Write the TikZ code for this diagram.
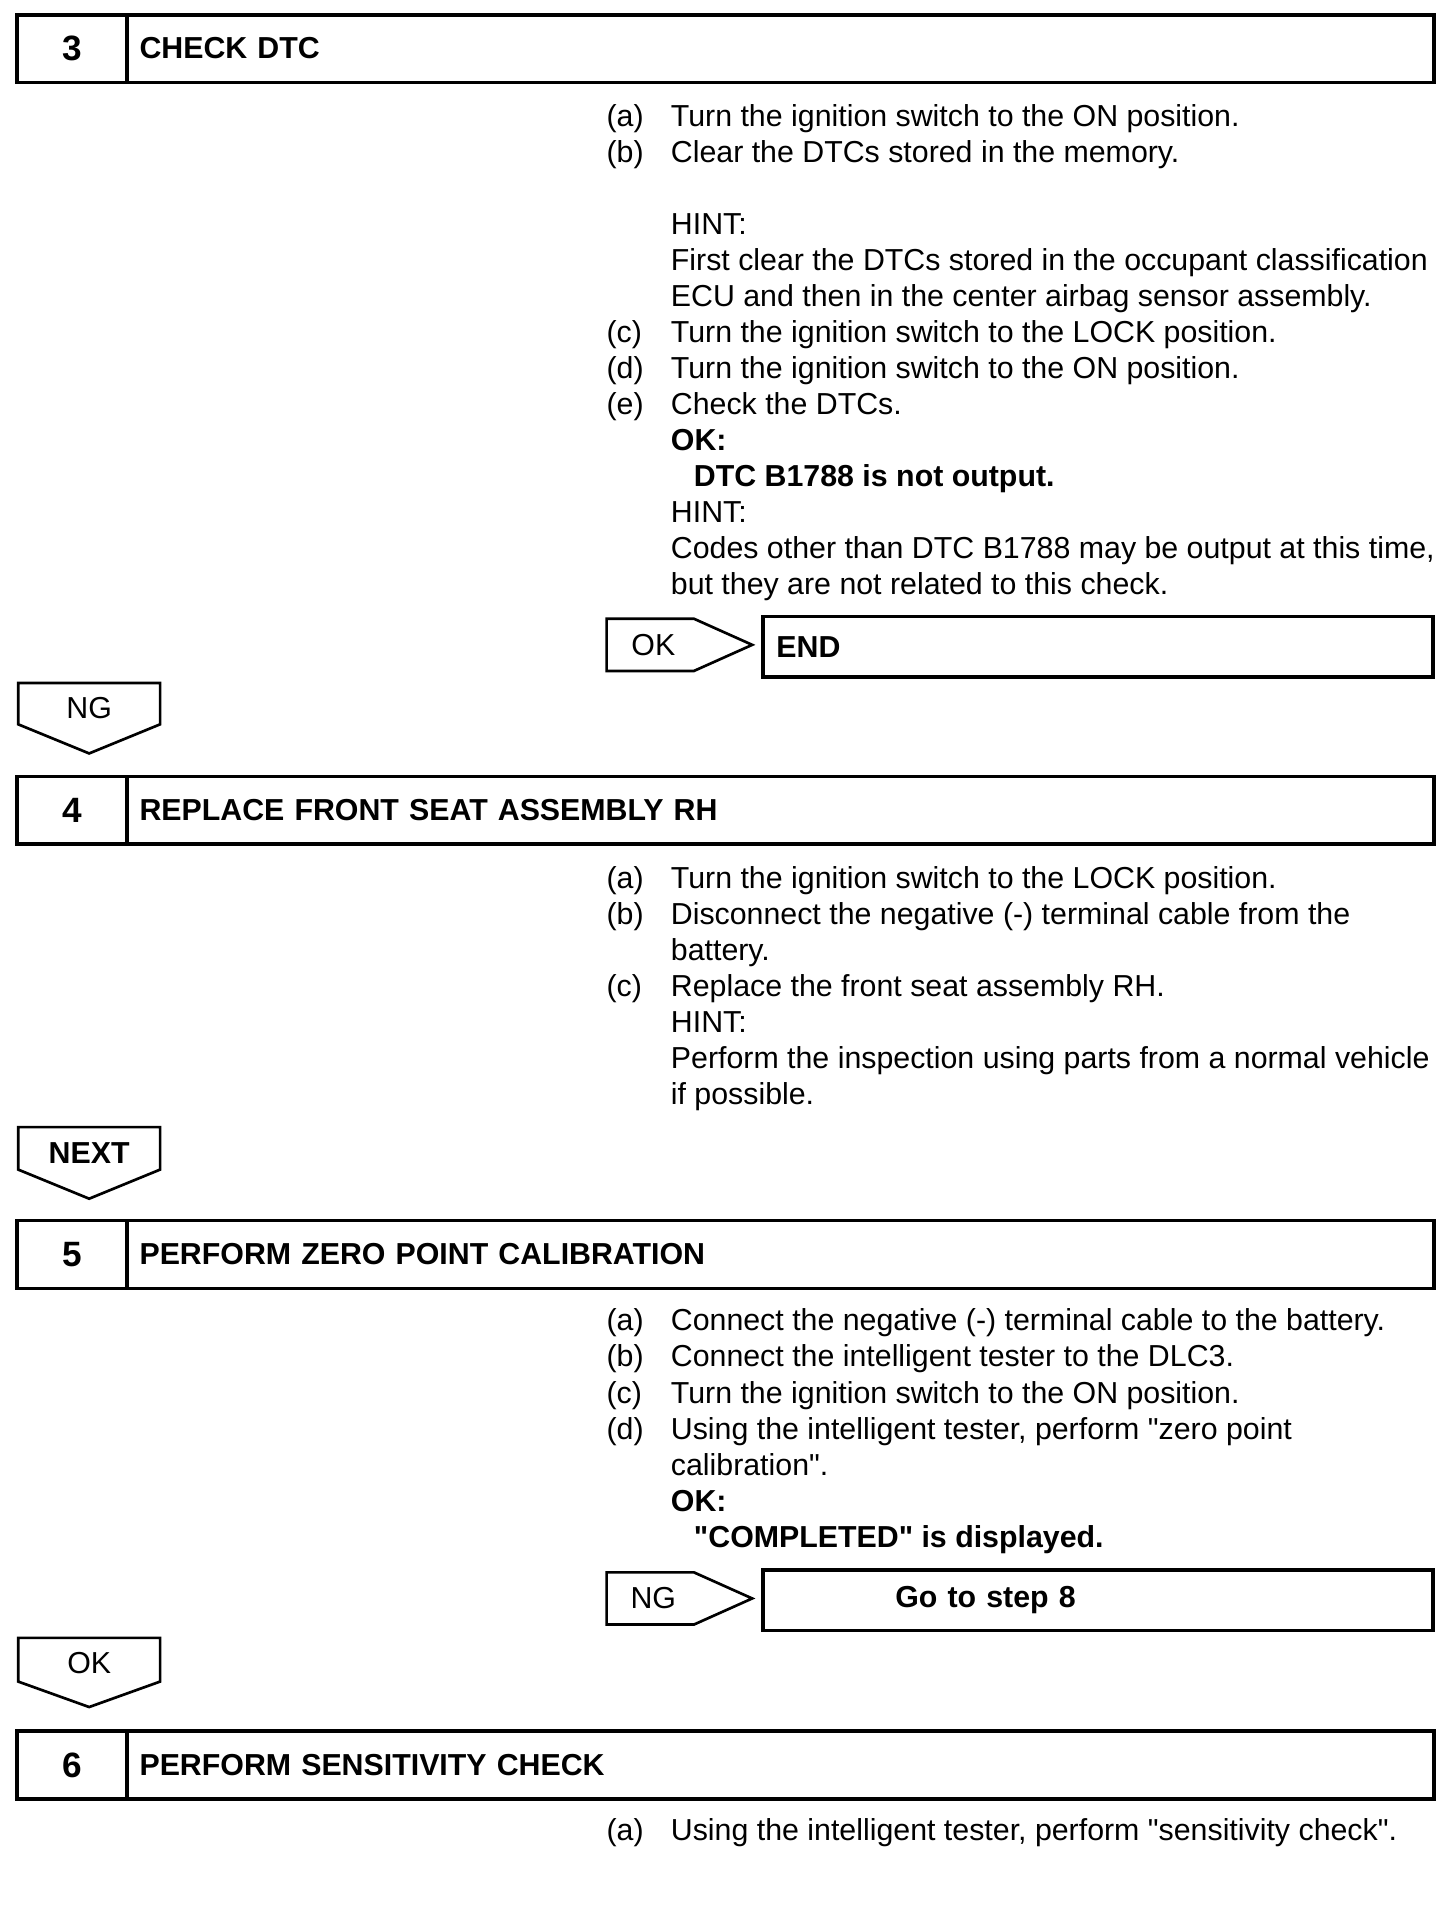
\documentclass[tikz,border=0pt]{standalone}
\usepackage{fontspec}
\setmainfont{Liberation Sans}
\usepackage{tikz}
\usetikzlibrary{positioning}
\newcommand{\txt}{\fontsize{12.5}{14.85}\selectfont}
\newcommand{\ind}{\hspace*{9.5pt}}
\newcommand{\q}{\textquotedbl}

\begin{document}
\begin{tikzpicture}[x=0.5pt, y=-0.5pt,
  every node/.style={font=\txt, inner sep=0pt, outer sep=0pt},
  numcell/.style={draw=black, line width=1.6pt, minimum width=45.5pt, minimum height=28pt, font=\fontsize{14.5}{16}\selectfont\bfseries},
  titlecell/.style={draw=black, line width=1.6pt, minimum width=538.5pt, minimum height=28pt, text width=528.5pt, inner xsep=5pt, align=left, font=\txt\bfseries},
  resultbox/.style={draw=black, line width=1.4pt, minimum width=276pt, minimum height=25pt, text width=265pt, inner xsep=5.5pt, align=left, font=\txt\bfseries},
  tagline/.style={draw=black, line width=1.1pt, line join=miter}]

\useasboundingbox (0,0) rectangle (1200,1571);

% step 3
\node [numcell] (num 3) at (59.5,40) {3};
\node [titlecell, right=0pt of num 3] (title 3) {CHECK DTC};
\node [anchor=base west] (text 3) at (500,104) {\begin{tabular}[t]{@{}p{26.5pt}@{}l@{}}
(a) & Turn the ignition switch to the ON position.\\
(b) & Clear the DTCs stored in the memory.\\
 & \\
 & HINT:\\
 & First clear the DTCs stored in the occupant classification\\
 & ECU and then in the center airbag sensor assembly.\\
(c) & Turn the ignition switch to the LOCK position.\\
(d) & Turn the ignition switch to the ON position.\\
(e) & Check the DTCs.\\
 & \textbf{OK:}\\
 & \ind\textbf{DTC B1788 is not output.}\\
 & HINT:\\
 & Codes other than DTC B1788 may be output at this time,\\
 & but they are not related to this check.
\end{tabular}};

\path [tagline] (500,510) -- (572,510) -- (620,531.5) -- (572,553) -- (500,553) -- cycle;
\node (ok 3) at (538.5,531.5) {OK};
\node [resultbox] (end) at (905,533) {END};

\path [tagline] (15,563) -- (132,563) -- (132,597) -- (73.5,621) -- (15,597) -- cycle;
\node (ng 3) at (73.5,584) {NG};

% step 4
\node [numcell] (num 4) at (59.5,668) {4};
\node [titlecell, right=0pt of num 4] (title 4) {REPLACE FRONT SEAT ASSEMBLY RH};
\node [anchor=base west] (text 4) at (500,732) {\begin{tabular}[t]{@{}p{26.5pt}@{}l@{}}
(a) & Turn the ignition switch to the LOCK position.\\
(b) & Disconnect the negative (-) terminal cable from the\\
 & battery.\\
(c) & Replace the front seat assembly RH.\\
 & HINT:\\
 & Perform the inspection using parts from a normal vehicle\\
 & if possible.
\end{tabular}};

\path [tagline] (15,929) -- (132,929) -- (132,964) -- (73.5,988) -- (15,964) -- cycle;
\node [font=\txt\bfseries] (next 4) at (73.5,950) {NEXT};

% step 5
\node [numcell] (num 5) at (59.5,1034) {5};
\node [titlecell, right=0pt of num 5] (title 5) {PERFORM ZERO POINT CALIBRATION};
\node [anchor=base west] (text 5) at (500,1097) {\begin{tabular}[t]{@{}p{26.5pt}@{}l@{}}
(a) & Connect the negative (-) terminal cable to the battery.\\
(b) & Connect the intelligent tester to the DLC3.\\
(c) & Turn the ignition switch to the ON position.\\
(d) & Using the intelligent tester, perform \q zero point\\
 & calibration\q.\\
 & \textbf{OK:}\\
 & \ind\textbf{\q COMPLETED\q{} is displayed.}
\end{tabular}};

\path [tagline] (500,1296) -- (572,1296) -- (620,1317.5) -- (572,1339) -- (500,1339) -- cycle;
\node (ng 5) at (538.5,1317.5) {NG};
\node [resultbox] (goto 8) at (905,1319) {\hspace*{49pt}Go to step 8};

\path [tagline] (15,1350) -- (132,1350) -- (132,1386) -- (73.5,1407) -- (15,1386) -- cycle;
\node (ok 5) at (73.5,1371) {OK};

% step 6
\node [numcell] (num 6) at (59.5,1455) {6};
\node [titlecell, right=0pt of num 6] (title 6) {PERFORM SENSITIVITY CHECK};
\node [anchor=base west] (text 6) at (500,1517) {\begin{tabular}[t]{@{}p{26.5pt}@{}l@{}}
(a) & Using the intelligent tester, perform \q sensitivity check\q.
\end{tabular}};
\end{tikzpicture}
\end{document}
